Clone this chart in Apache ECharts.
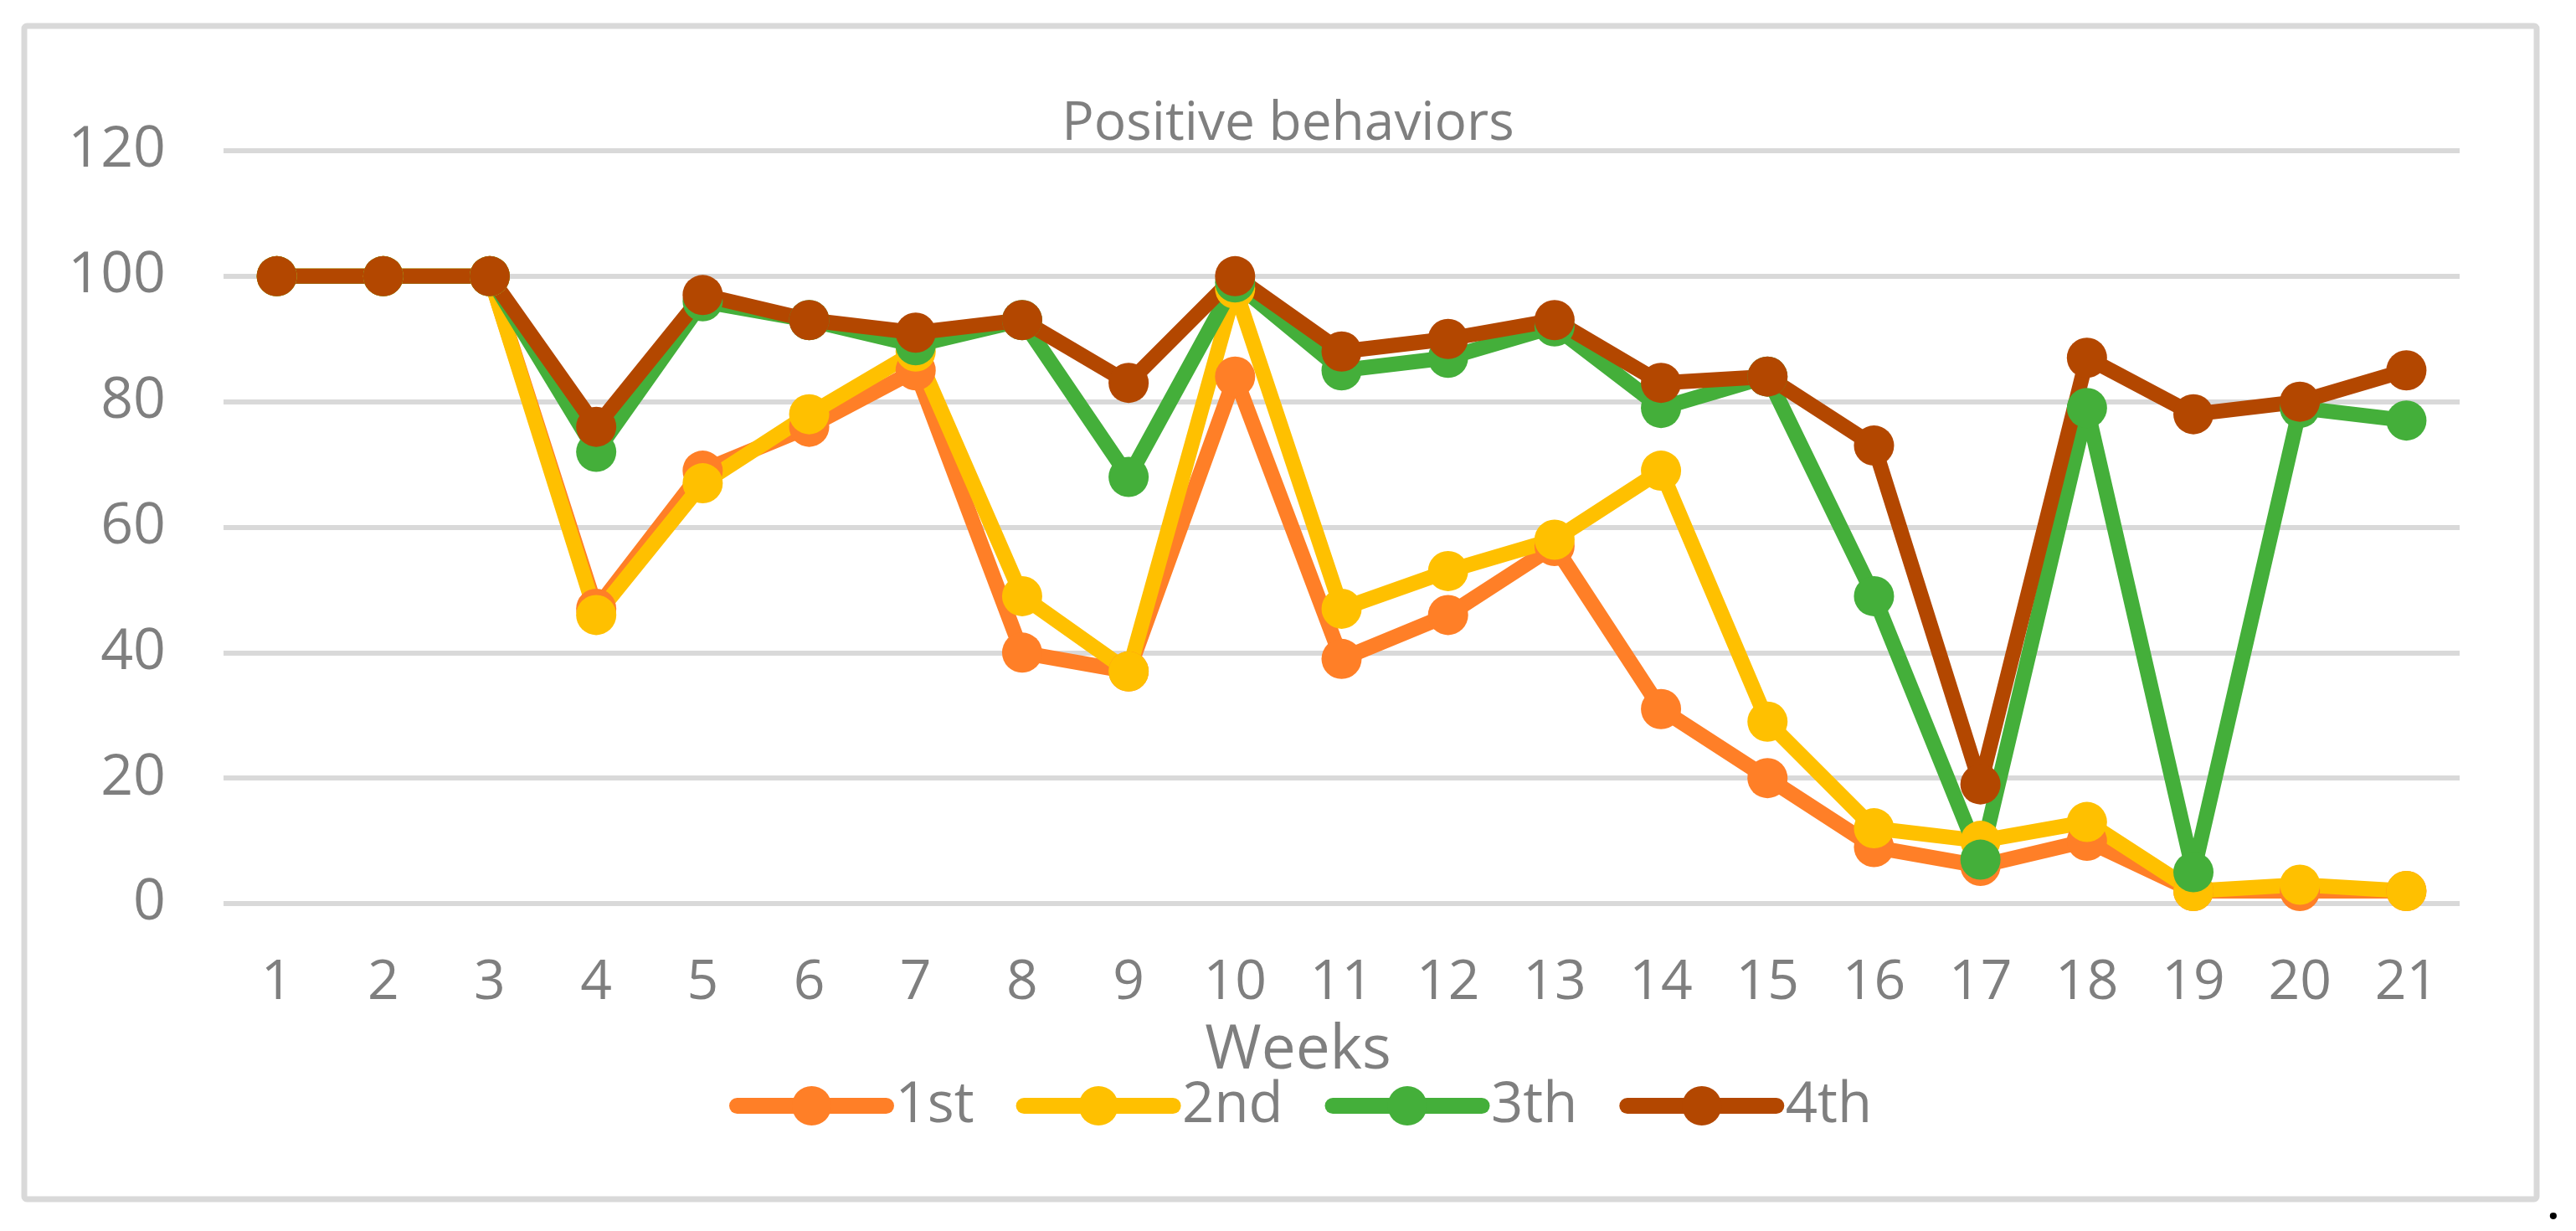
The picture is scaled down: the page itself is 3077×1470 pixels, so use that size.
<!DOCTYPE html>
<html>
<head>
<meta charset="utf-8">
<script src="https://cdn.jsdelivr.net/npm/echarts@6/dist/echarts.min.js"></script>
<style>
	html, body { margin: 0; padding: 0; background: #fff; }
	#chart { width: 3077px; height: 1470px; }
</style>
</head>
<body>
<div id="chart"></div>
<script>
// weeks on the x axis
var weeks = ['1', '2', '3', '4', '5', '6', '7', '8', '9', '10', '11', '12', '13', '14', '15', '16', '17', '18', '19', '20', '21'];
var seriesNames = ['1st', '2nd', '3th', '4th'];

var first = [100, 100, 100, 47, 69, 76, 85, 40, 37, 84, 39, 46, 57, 31, 20, 9, 6, 10, 2, 2, 2];
var second = [100, 100, 100, 46, 67, 78, 88, 49, 37, 98, 47, 53, 58, 69, 29, 12, 10, 13, 2, 3, 2];
var third = [100, 100, 100, 72, 96, 93, 89, 93, 68, 99, 85, 87, 92, 79, 84, 49, 7, 79, 5, 79, 77];
var fourth = [100, 100, 100, 76, 97, 93, 91, 93, 83, 100, 88, 90, 93, 83, 84, 73, 19, 87, 78, 80, 85];

var colors = ['#FF7F27', '#FFC000', '#44AF3A', '#B34700'];
var textGrey = '#7F7F7F';
var font = '"Open Sans", "Liberation Sans", sans-serif';

function makeSeries(name, data, color) {
	return {
		name: name,
		type: 'line',
		data: data,
		symbol: 'circle',
		symbolSize: 48,
		itemStyle: { color: color },
		lineStyle: { color: color, width: 18, join: 'round' },
		emphasis: { disabled: true },
		animation: false
	};
}

var chart = echarts.init(document.getElementById('chart'));
var option = {
	backgroundColor: '#fff',
	title: {
		text: 'Positive behaviors',
		left: 'center',
		top: 112,
		textStyle: {
			fontFamily: font,
			fontSize: 64,
			fontWeight: 'normal',
			color: textGrey
		}
	},
	legend: {
		data: seriesNames,
		left: 866,
		top: 1282,
		itemWidth: 178,
		itemHeight: 59,
		itemGap: 50,
		lineStyle: { width: 19, cap: 'round' },
		textStyle: {
			fontFamily: font,
			fontSize: 67,
			color: textGrey,
			padding: [0, 0, 0, 6]
		}
	},
	grid: {
		left: 267,
		right: 139,
		top: 180,
		bottom: 391
	},
	xAxis: {
		type: 'category',
		data: weeks,
		boundaryGap: true,
		name: 'Weeks',
		nameLocation: 'middle',
		nameGap: 140,
		nameTextStyle: {
			fontFamily: font,
			fontSize: 73,
			color: textGrey,
			padding: [0, 104, 0, 0]
		},
		axisLine: { show: false },
		axisTick: { show: false },
		axisLabel: {
			fontFamily: font,
			fontSize: 66,
			color: textGrey,
			margin: 62
		}
	},
	yAxis: {
		type: 'value',
		min: 0,
		max: 120,
		interval: 20,
		axisLine: { show: false },
		axisTick: { show: false },
		axisLabel: {
			fontFamily: font,
			fontSize: 68,
			color: textGrey,
			margin: 69
		},
		splitLine: {
			lineStyle: { color: '#D9D9D9', width: 6 }
		}
	},
	graphic: [
		{
			type: 'rect',
			shape: { x: 29, y: 31, width: 3001, height: 1401, r: 3 },
			style: { fill: null, stroke: '#D9D9D9', lineWidth: 7 },
			silent: true
		},
		{
			type: 'text',
			x: 3043,
			y: 1418,
			style: { text: '.', font: 'bold 48px "Open Sans"', fill: '#000' },
			silent: true
		}
	],
	series: [
		makeSeries(seriesNames[0], first, colors[0]),
		makeSeries(seriesNames[1], second, colors[1]),
		makeSeries(seriesNames[2], third, colors[2]),
		makeSeries(seriesNames[3], fourth, colors[3])
	]
};
chart.setOption(option);
</script>
</body>
</html>
